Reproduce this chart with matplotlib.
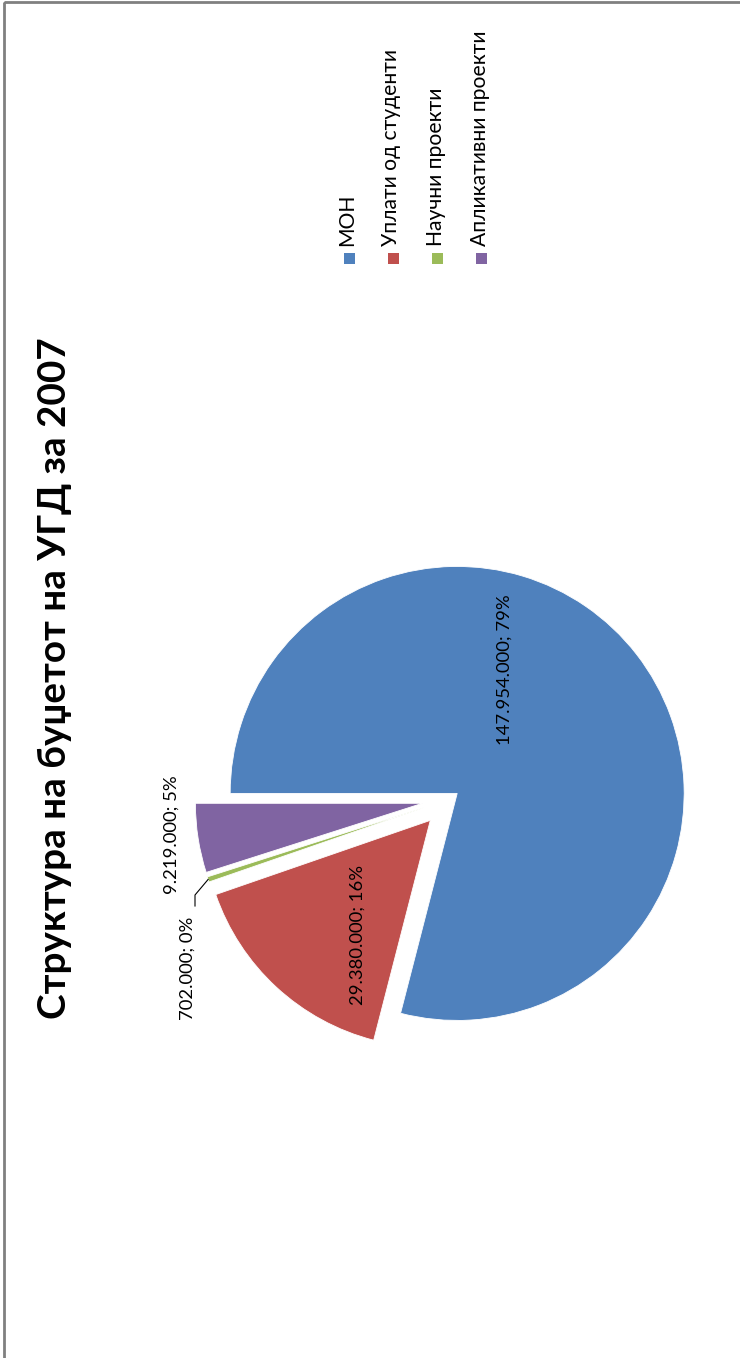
#!/usr/bin/env python
#-*- encoding: utf-8 -*-

'''budget structure pie, drawn rotated like the scanned page
'''

import numpy as np
import matplotlib.pyplot as plt
from matplotlib.patches import Rectangle

plt.rcParams['font.family'] = ['Lato', 'DejaVu Sans']

title = 'Структура на буџетот на УГД за 2007'
categories = ['МОН', 'Уплати од студенти', 'Научни проекти', 'Апликативни проекти']
values = [147954000, 29380000, 702000, 9219000]
colors = ['#4F81BD', '#C0504D', '#9BBB59', '#8064A2']
explode = [0.04, 0.128, 0.123, 0.123]

W, H = 740, 1358
R = 227


def fmt_label(v, total):
    return '{}; {}%'.format('{:,}'.format(v).replace(',', '.'), int(round(v / total * 100)))


def main():
    fig = plt.figure(figsize=(W / 100, H / 100), dpi=100)
    ax = fig.add_axes([0, 0, 1, 1])
    total = sum(values)

    # y axis runs downward, so counterclock=True draws clockwise on the page
    wedges, _ = ax.pie(values, colors=colors, explode=[e * R for e in explode],
                       startangle=180, counterclock=True, center=(450, 799), radius=R,
                       wedgeprops=dict(edgecolor='white', linewidth=0.6))
    ax.set_xlim(0, W)
    ax.set_ylim(H, 0)
    ax.set_aspect('equal')
    ax.axis('off')

    labels = [fmt_label(v, total) for v in values]
    label_pos = [(505, 670), (358, 935), (188, 968), (172, 835)]
    for lab, (x, y) in zip(labels, label_pos):
        ax.text(x, y, lab, rotation=90, ha='center', va='center', fontsize=13.3, color='black')

    # leader line for the tiny slice
    g = wedges[2]
    mid = np.deg2rad((g.theta1 + g.theta2) / 2)
    tip = (g.center[0] + g.r * np.cos(mid), g.center[1] + g.r * np.sin(mid))
    ax.plot([tip[0], 195, 195], [tip[1], 895, 906], color='black', lw=0.8)

    ax.text(55, 678, title, rotation=90, ha='center', va='center',
            fontsize=27.8, fontweight='bold', color='black')

    # legend, rotated with the page
    for i, (name, c) in enumerate(zip(categories, colors)):
        x = 349 + i * 44.3
        ax.add_patch(Rectangle((x - 5.5, 253), 11, 11, facecolor=c, edgecolor='none'))
        ax.text(x - 2, 246, name, rotation=90, ha='center', va='bottom', fontsize=15.2, color='black')

    # page frame
    ax.add_patch(Rectangle((4, 1.5), W + 10, H + 10, facecolor='none', edgecolor='#808080',
                           lw=2, clip_on=False))

    fig.savefig('out.png', dpi=100)


if __name__ == '__main__':
    main()
